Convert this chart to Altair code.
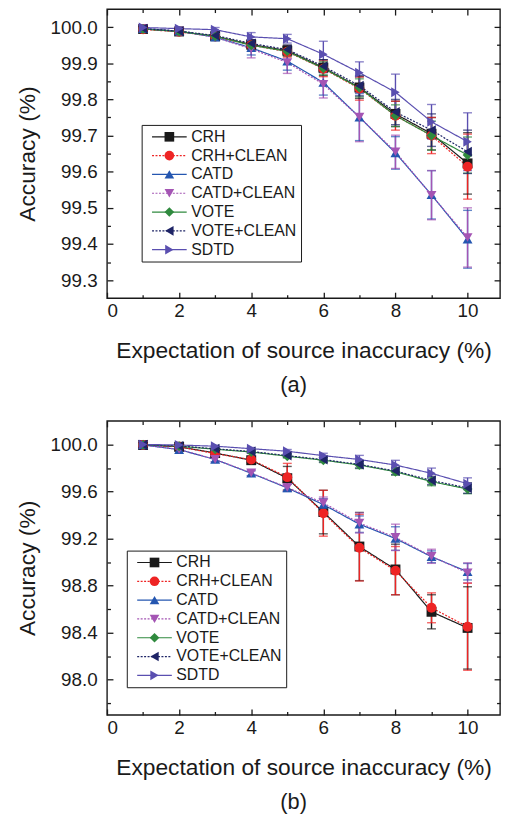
import altair as alt
import pandas as pd

FONT = "Liberation Sans"
INK = "#1a1a1a"

X = [1, 2, 3, 4, 5, 6, 7, 8, 9, 10]
SERIES = ["CRH", "CRH+CLEAN", "CATD", "CATD+CLEAN", "VOTE", "VOTE+CLEAN", "SDTD"]
COLORS = ["#1a1a1a", "#ee2424", "#2456b0", "#a455b4", "#2f8a3e", "#1e2466", "#5a4fb0"]
SHAPES = ["square", "circle", "triangle-up", "triangle-down", "diamond", "triangle-left", "triangle-right"]
DASHES = [[1, 0], [2, 1.5], [1, 0], [2, 1.5], [1, 0], [2, 1.5], [1, 0]]

# ---- panel (a) ----
A_CRH = [99.995, 99.988, 99.975, 99.952, 99.935, 99.888, 99.833, 99.760, 99.705, 99.623]
A_CRH_C = [99.994, 99.987, 99.974, 99.950, 99.932, 99.885, 99.830, 99.755, 99.700, 99.614]
A_CATD = [99.996, 99.989, 99.972, 99.943, 99.906, 99.847, 99.751, 99.652, 99.536, 99.413]
A_CATD_C = [99.996, 99.989, 99.972, 99.940, 99.902, 99.842, 99.751, 99.655, 99.535, 99.418]
A_VOTE = [99.995, 99.988, 99.975, 99.950, 99.933, 99.886, 99.832, 99.755, 99.700, 99.646]
A_VOTE_C = [99.996, 99.989, 99.977, 99.955, 99.938, 99.892, 99.838, 99.765, 99.715, 99.655]
A_SDTD = [99.999, 99.996, 99.993, 99.973, 99.968, 99.925, 99.874, 99.820, 99.738, 99.683]

AE_CRH = [0.003, 0.005, 0.008, 0.012, 0.015, 0.022, 0.030, 0.035, 0.045, 0.085]
AE_CRH_C = [0.003, 0.005, 0.008, 0.012, 0.015, 0.022, 0.032, 0.040, 0.050, 0.090]
AE_CATD = [0.003, 0.005, 0.008, 0.020, 0.025, 0.035, 0.065, 0.045, 0.067, 0.080]
AE_CATD_C = [0.003, 0.005, 0.008, 0.025, 0.030, 0.038, 0.068, 0.046, 0.068, 0.082]
AE_VOTE = [0.003, 0.005, 0.007, 0.010, 0.012, 0.018, 0.025, 0.030, 0.040, 0.050]
AE_VOTE_C = [0.003, 0.005, 0.007, 0.010, 0.012, 0.018, 0.028, 0.035, 0.045, 0.060]
AE_SDTD = [0.003, 0.004, 0.006, 0.012, 0.012, 0.036, 0.030, 0.050, 0.048, 0.080]

# ---- panel (b) ----
B_CRH = [99.995, 99.980, 99.927, 99.866, 99.713, 99.425, 99.132, 98.937, 98.577, 98.440]
B_CRH_C = [99.995, 99.980, 99.922, 99.871, 99.722, 99.415, 99.122, 98.927, 98.611, 98.450]
B_CATD = [99.995, 99.956, 99.872, 99.755, 99.630, 99.489, 99.322, 99.200, 99.045, 98.918]
B_CATD_C = [99.995, 99.958, 99.873, 99.758, 99.634, 99.503, 99.332, 99.210, 99.049, 98.908]
B_VOTE = [99.998, 99.985, 99.959, 99.936, 99.900, 99.866, 99.825, 99.768, 99.684, 99.621]
B_VOTE_C = [99.998, 99.987, 99.963, 99.940, 99.905, 99.871, 99.830, 99.774, 99.694, 99.630]
B_SDTD = [100.000, 99.995, 99.985, 99.964, 99.942, 99.905, 99.872, 99.825, 99.754, 99.666]

BE_CRH = [0.003, 0.005, 0.010, 0.020, 0.100, 0.185, 0.290, 0.215, 0.145, 0.350]
BE_CRH_C = [0.003, 0.005, 0.010, 0.020, 0.117, 0.195, 0.283, 0.205, 0.127, 0.370]
BE_CATD = [0.002, 0.010, 0.020, 0.020, 0.030, 0.050, 0.070, 0.100, 0.050, 0.070]
BE_CATD_C = [0.002, 0.010, 0.020, 0.025, 0.030, 0.050, 0.085, 0.112, 0.060, 0.085]
BE_VOTE = [0.002, 0.005, 0.010, 0.012, 0.015, 0.020, 0.030, 0.030, 0.035, 0.040]
BE_VOTE_C = [0.002, 0.005, 0.010, 0.012, 0.015, 0.020, 0.030, 0.030, 0.035, 0.045]
BE_SDTD = [0.002, 0.004, 0.008, 0.010, 0.015, 0.020, 0.035, 0.040, 0.045, 0.050]

X_MAJOR = [0, 2, 4, 6, 8, 10]
X_MINOR = [1, 3, 5, 7, 9]
A_Y_MAJOR = [99.3, 99.4, 99.5, 99.6, 99.7, 99.8, 99.9, 100.0]
A_Y_MINOR = [99.35, 99.45, 99.55, 99.65, 99.75, 99.85, 99.95]
B_Y_MAJOR = [98.0, 98.4, 98.8, 99.2, 99.6, 100.0]
B_Y_MINOR = [97.8, 98.2, 98.6, 99.0, 99.4, 99.8]

W = 397


def make_df(vals, errs):
    rows = []
    for s, v, e in zip(SERIES, vals, errs):
        for xi, yi, ei in zip(X, v, e):
            rows.append({"series": s, "x": xi, "y": yi, "lo": yi - ei, "hi": yi + ei})
    return pd.DataFrame(rows)


def tick_axis(orient, values, size, offset):
    return alt.Axis(orient=orient, values=values, offset=offset, labels=False,
                    domain=False, ticks=True, tickSize=size, title=None, grid=False)


def panel(df, ydom, ymaj, ymin, legx, legy, caption, H):
    xs = alt.Scale(domain=[0, 10.9], nice=False, zero=False)
    ys = alt.Scale(domain=ydom, nice=False, zero=False)
    cs = alt.Scale(domain=SERIES, range=COLORS)
    base = alt.Chart(df)

    leg_common = dict(orient="none", legendX=legx, legendY=legy, title=None,
                      labelFontSize=16, labelFont=FONT, labelColor=INK,
                      padding=4, rowPadding=3, symbolOffset=16, labelOffset=14)
    line_leg = alt.Legend(symbolType="M-3.5,0H3.5", symbolSize=100, symbolStrokeWidth=1.2,
                          strokeColor=INK, fillColor="white", **leg_common)
    pt_leg = alt.Legend(symbolSize=95, symbolStrokeWidth=0, labelExpr="''", **leg_common)

    lines = base.mark_line(strokeWidth=1.2).encode(
        x=alt.X("x:Q", scale=xs, axis=alt.Axis(orient="bottom", values=X_MAJOR, format="d",
                                               title="Expectation of source inaccuracy (%)",
                                               tickSize=0, labelPadding=4, titlePadding=19,
                                               domain=False, grid=False)),
        y=alt.Y("y:Q", scale=ys, axis=alt.Axis(orient="left", values=ymaj, format=".1f",
                                               title="Accuracy (%)", tickSize=0, labelPadding=10,
                                               titlePadding=11, domain=False, grid=False)),
        color=alt.Color("series:N", scale=cs, legend=line_leg),
        strokeDash=alt.StrokeDash("series:N", scale=alt.Scale(domain=SERIES, range=DASHES),
                                  legend=line_leg),
    )
    rules = base.mark_rule(strokeWidth=1.4).encode(
        x=alt.X("x:Q", scale=xs, axis=tick_axis("top", X_MAJOR, 6, -H)),
        y=alt.Y("lo:Q", scale=ys, axis=tick_axis("right", ymaj, 6, -W)),
        y2="hi:Q",
        color=alt.Color("series:N", scale=cs, legend=None),
    )
    cap_lo = base.mark_tick(orient="horizontal", size=9, thickness=1.4).encode(
        x=alt.X("x:Q", scale=xs, axis=tick_axis("bottom", X_MAJOR, 6, -H)),
        y=alt.Y("lo:Q", scale=ys, axis=tick_axis("left", ymaj, 6, -W)),
        color=alt.Color("series:N", scale=cs, legend=None),
    )
    cap_hi = base.mark_tick(orient="horizontal", size=9, thickness=1.4).encode(
        x=alt.X("x:Q", scale=xs, axis=tick_axis("top", X_MINOR, 3.5, -H)),
        y=alt.Y("hi:Q", scale=ys, axis=tick_axis("right", ymin, 3.5, -W)),
        color=alt.Color("series:N", scale=cs, legend=None),
    )
    points = base.mark_point(filled=True, size=100, opacity=1, strokeWidth=0).encode(
        x=alt.X("x:Q", scale=xs, axis=tick_axis("bottom", X_MINOR, 3.5, -H)),
        y=alt.Y("y:Q", scale=ys, axis=tick_axis("left", ymin, 3.5, -W)),
        color=alt.Color("series:N", scale=cs, legend=pt_leg),
        shape=alt.Shape("series:N", scale=alt.Scale(domain=SERIES, range=SHAPES), legend=pt_leg),
    )
    return alt.layer(lines, rules, cap_lo, cap_hi, points).resolve_scale(
        color="independent", shape="independent", strokeDash="independent"
    ).resolve_axis(x="independent", y="independent").properties(
        width=W, height=H,
        title=alt.TitleParams(caption, orient="bottom", frame="group", fontSize=22, font=FONT,
                              fontWeight="normal", color=INK, offset=13, dx=-10))


df_a = make_df([A_CRH, A_CRH_C, A_CATD, A_CATD_C, A_VOTE, A_VOTE_C, A_SDTD],
               [AE_CRH, AE_CRH_C, AE_CATD, AE_CATD_C, AE_VOTE, AE_VOTE_C, AE_SDTD])
df_b = make_df([B_CRH, B_CRH_C, B_CATD, B_CATD_C, B_VOTE, B_VOTE_C, B_SDTD],
               [BE_CRH, BE_CRH_C, BE_CATD, BE_CATD_C, BE_VOTE, BE_VOTE_C, BE_SDTD])

pa = panel(df_a, [99.25, 100.05], A_Y_MAJOR, A_Y_MINOR, 35, 117, "(a)", 292)
pb = panel(df_b, [97.7, 100.2], B_Y_MAJOR, B_Y_MINOR, 20, 131, "(b)", 297)

chart = alt.vconcat(pa, pb, spacing=22).resolve_scale(
    color="independent", shape="independent", strokeDash="independent"
).resolve_legend(
    color="independent", shape="independent", strokeDash="independent"
).properties(
    padding={"left": 7, "top": -5, "right": 0, "bottom": 0}
).configure_view(stroke=INK, strokeWidth=1.4).configure_axis(
    labelFont=FONT, titleFont=FONT, labelFontSize=19, titleFontSize=23,
    labelColor=INK, titleColor=INK, tickColor=INK, tickWidth=1.3,
    titleFontWeight="normal", grid=False
).configure_legend(labelFont=FONT, labelFontSize=16, labelColor=INK)

chart.save("out.html", embed_options={"renderer": "svg", "actions": False})
